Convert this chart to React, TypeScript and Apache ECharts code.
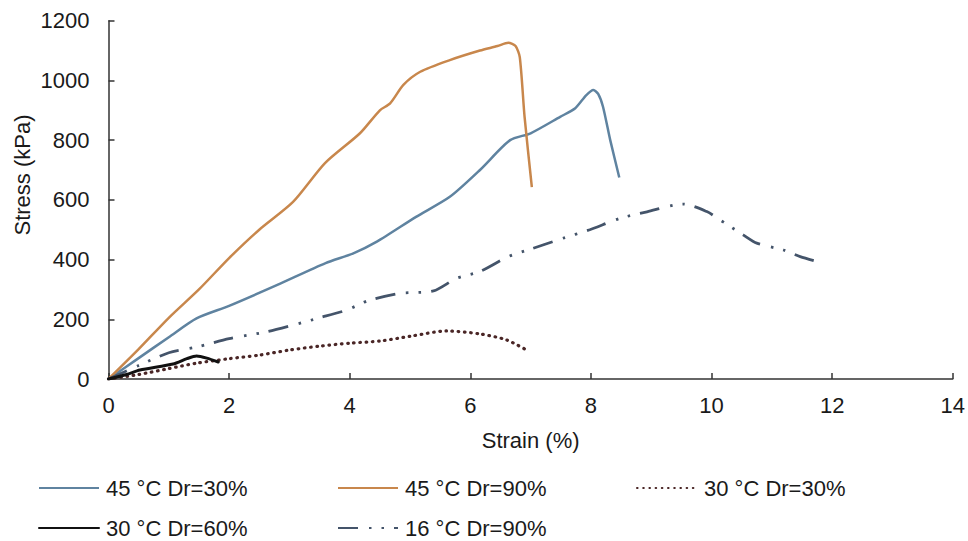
import React, { useEffect, useRef } from "react";
import * as echarts from "echarts";

const seriesNames = ["45 °C Dr=30%", "45 °C Dr=90%", "30 °C Dr=30%", "30 °C Dr=60%", "16 °C Dr=90%"];

const s45dr30: [number, number][] = [
  [0, 0], [0.5, 70], [1, 140], [1.46, 203], [2, 245], [2.8, 315], [3.6, 388], [4.06, 421],
  [4.45, 460], [5.1, 543], [5.66, 610], [6.16, 700], [6.66, 800], [7.0, 823], [7.49, 878],
  [7.74, 907], [7.92, 950], [8.04, 968], [8.12, 955], [8.2, 912], [8.32, 800], [8.47, 675],
];

const s45dr90: [number, number][] = [
  [0, 0], [0.5, 100], [1, 205], [1.5, 300], [2, 405], [2.5, 500], [3.06, 593], [3.59, 723],
  [4.17, 823], [4.5, 900], [4.67, 923], [4.89, 985], [5.17, 1029], [5.66, 1068], [6.16, 1100],
  [6.45, 1115], [6.63, 1126], [6.75, 1115], [6.82, 1078], [6.9, 877], [7.02, 643],
];

const s30dr30: [number, number][] = [
  [0, 0], [0.5, 15], [1, 35], [1.46, 53], [2, 68], [2.5, 80], [3, 97], [3.5, 110], [4, 120],
  [4.5, 127], [5, 143], [5.61, 161], [6.16, 151], [6.6, 131], [6.96, 94],
];

const s30dr60: [number, number][] = [
  [0, 0], [0.3, 15], [0.52, 30], [1.07, 50], [1.3, 68], [1.46, 77], [1.63, 70], [1.82, 57],
];

const s16dr90: [number, number][] = [
  [0, 0], [0.5, 45], [1, 88], [1.46, 107], [2, 135], [2.62, 158], [3.07, 181], [3.5, 205],
  [3.95, 231], [4.3, 262], [4.83, 287], [5.39, 295], [5.77, 337], [6.16, 360], [6.63, 410],
  [7.0, 435], [7.53, 471], [7.98, 500], [8.48, 538], [8.93, 560], [9.53, 586], [9.93, 560],
  [10.1, 538], [10.53, 482], [10.75, 455], [11.19, 432], [11.47, 410], [11.85, 388],
];

const xTicks = { min: 0, max: 14, interval: 2 };
const yTicks = { min: 0, max: 1200, interval: 200 };

const FONT = "'Liberation Sans', Arial, sans-serif";

export default function App() {
  const ref = useRef<HTMLDivElement>(null);
  useEffect(() => {
    if (!ref.current) return;
    const chart = echarts.init(ref.current, undefined, { renderer: "svg" });
    const textStyle = { fontFamily: FONT, fontSize: 22, color: "#1a1a1a" };
    const legendBase = {
      itemWidth: 60,
      itemHeight: 14,
      itemGap: 0,
      padding: 0,
      itemStyle: { opacity: 0 },
      textStyle: { ...textStyle, padding: [0, 0, 0, 2] },
      orient: "horizontal",
    };
    const data = [s45dr30, s45dr90, s30dr30, s30dr60, s16dr90];
    const colors = ["#5f83a0", "#c8874c", "#4a2626", "#111111", "#44546a"];
    const lineTypes: any[] = ["solid", "solid", [0.6, 5.6], "solid", [20, 11, 2.5, 10, 2.5, 10]];
    const caps = ["butt", "butt", "round", "round", "butt"];
    const widths = [2.5, 2.5, 3.2, 3, 2.8];
    chart.setOption({
      animation: false,
      backgroundColor: "#ffffff",
      textStyle: { fontFamily: FONT },
      grid: { left: 108.5, right: 15, top: 20.7, bottom: 162, containLabel: false },
      xAxis: {
        type: "value",
        ...xTicks,
        name: "Strain (%)",
        nameLocation: "middle",
        nameGap: 50,
        nameTextStyle: textStyle,
        axisLine: { lineStyle: { color: "#333", width: 1.5 } },
        axisTick: { inside: true, length: 6, lineStyle: { color: "#333", width: 1.5 } },
        axisLabel: { ...textStyle, margin: 15 },
        splitLine: { show: false },
      },
      yAxis: {
        type: "value",
        ...yTicks,
        axisLine: { show: true, lineStyle: { color: "#333", width: 1.5 } },
        axisTick: { show: true, inside: true, length: 6, lineStyle: { color: "#333", width: 1.5 } },
        axisLabel: { ...textStyle, margin: 19, formatter: (v: number) => String(v) },
        splitLine: { show: false },
      },
      graphic: [
        {
          type: "text",
          x: 22,
          y: 175,
          rotation: Math.PI / 2,
          style: {
            text: "Stress (kPa)",
            fontFamily: FONT,
            fontSize: 22,
            fill: "#1a1a1a",
            align: "center",
            verticalAlign: "middle",
          },
        },
      ],
      legend: [
        { ...legendBase, data: [seriesNames[0]], left: 38, top: 477 },
        { ...legendBase, data: [seriesNames[1]], left: 337, top: 477 },
        { ...legendBase, data: [seriesNames[2]], left: 636, top: 477 },
        { ...legendBase, data: [seriesNames[3]], left: 38, top: 517 },
        { ...legendBase, data: [seriesNames[4]], left: 337, top: 517 },
      ],
      series: data.map((d, i) => ({
        name: seriesNames[i],
        type: "line",
        data: d,
        symbol: "none",
        showSymbol: false,
        smooth: 0.25,
        lineStyle: { color: colors[i], width: widths[i], type: lineTypes[i], cap: caps[i] },
        itemStyle: { color: colors[i] },
        z: i === 3 ? 5 : 2,
      })),
    });
    return () => chart.dispose();
  }, []);
  return <div ref={ref} style={{ width: 968, height: 541, position: "absolute", left: 0, top: 0 }} />;
}
